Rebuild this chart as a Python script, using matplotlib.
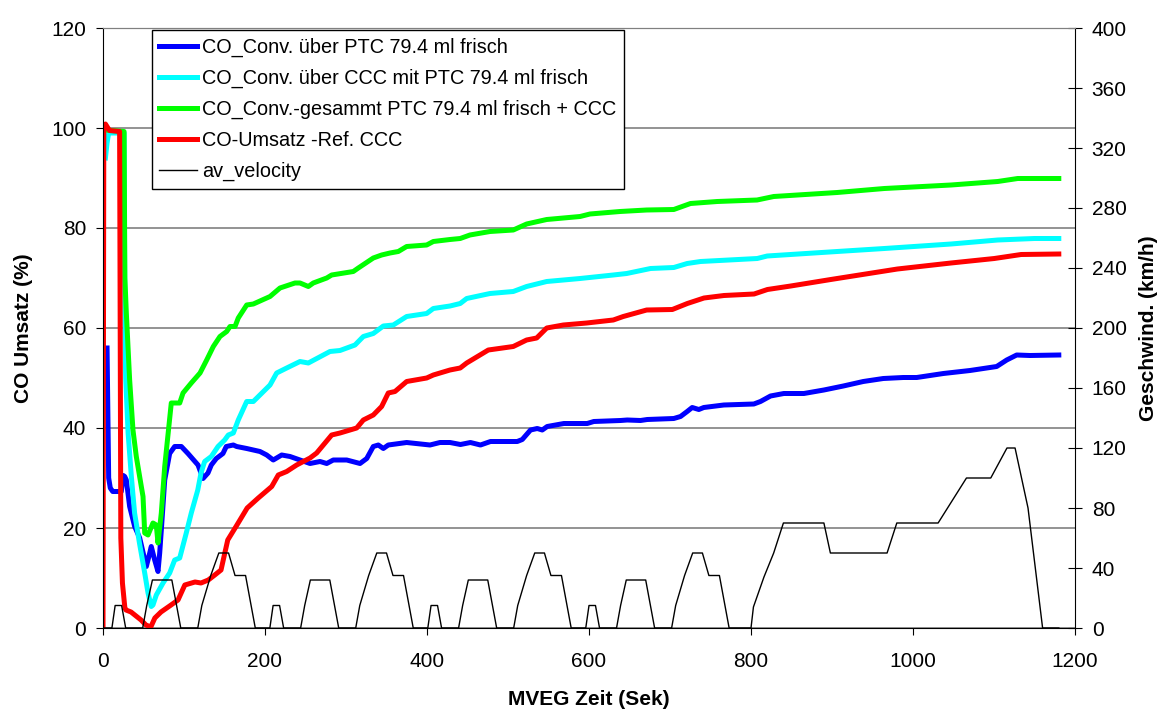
import matplotlib
matplotlib.use('Agg')
from matplotlib import pyplot as plt
from matplotlib.lines import Line2D

plt.rcParams['font.family'] = ['Liberation Sans', 'DejaVu Sans']

# CO conversion curves (time in s, value in %)
blue_t = [5, 7, 9, 12, 22.6, 25, 26.8, 28.8, 32.9, 39.1, 45.3, 53.5, 57.7, 59.6, 63.8, 67.9, 70, 72, 76.2, 82.3,
          88.5, 96.7, 104.9, 117.3, 123.5, 129.6, 133.7, 139.9, 148.1, 152.2, 160.9, 165, 177.4, 193.8, 202.1,
          210.2, 220.6, 230.9, 243.2, 255.6, 267.9, 276.2, 284.3, 300.9, 317.3, 325.6, 333.7, 339.9, 346.1,
          352.2, 374.9, 403.7, 416, 428.4, 441.3, 453.6, 466, 478.4, 511.4, 517.6, 527.8, 536.1, 542.3, 548.4,
          569, 597.8, 605.9, 638.9, 647.2, 663.6, 671.9, 704.7, 713, 721.2, 727.4, 735.6, 741.7, 766.4, 803.5,
          811.7, 824.1, 840.5, 865.3, 890, 914, 938.6, 963.3, 988, 1004.6, 1037.5, 1070.4, 1103.3, 1115.7,
          1128, 1144.5, 1180]
blue_v = [56, 30, 28, 27.3, 27.3, 30.5, 30.3, 29.6, 24.3, 20.3, 18, 12.3, 15, 16.3, 13.6, 11.3, 15, 19.6, 29.6, 34.9,
          36.3, 36.3, 34.9, 32.6, 29.9, 31, 32.6, 33.9, 34.9, 36.3, 36.6, 36.3, 35.9, 35.3, 34.6,
          33.6, 34.6, 34.3, 33.6, 32.9, 33.3, 32.9, 33.6, 33.6, 32.9, 33.9, 36.3, 36.6, 35.9,
          36.6, 37.1, 36.6, 37.1, 37.1, 36.7, 37.1, 36.6, 37.3, 37.3, 37.7, 39.6, 39.9, 39.6, 40.3,
          40.9, 40.9, 41.3, 41.5, 41.6, 41.5, 41.7, 41.9, 42.3, 43.3, 44.1, 43.7, 44.1, 44.6, 44.8,
          45.3, 46.4, 46.9, 46.9, 47.6, 48.4, 49.3, 49.9, 50.1, 50.1, 50.9, 51.5, 52.3, 53.6,
          54.6, 54.5, 54.6]

cyan_t = [3, 5, 7, 26, 27, 28, 31, 35, 39, 45, 51.5, 55.6, 59.6, 61.7, 65.8, 74.1, 82.3, 88.5, 94.7, 102.8, 109,
          117, 121, 125.5, 133.7, 142, 150.2, 154.7, 160.9, 167, 177.4, 185.6, 206.2, 214.4, 226.8, 243.2, 253.5,
          280.2, 292.6, 311.1, 321.4, 333.7, 346.1, 358.4, 374.9, 399.6, 407.8, 428.4, 441, 449, 477.8, 506.5,
          523, 547.8, 589, 630, 646.5, 676, 704.7, 721.2, 737.7, 807.7, 820, 906.4, 964.6, 1047, 1104.6,
          1149.9, 1180]
cyan_v = [94, 97, 99, 99, 60, 50, 39, 30.3, 23, 17, 11, 7, 4.3, 4.6, 6.6, 9, 11, 13.6, 14, 19, 23,
          27.6, 31, 33.3, 34.3, 36.3, 37.6, 38.6, 39, 41.6, 45.3, 45.3, 48.6, 51, 52, 53.3, 53,
          55.3, 55.5, 56.6, 58.3, 58.9, 60.4, 60.6, 62.3, 62.9, 63.9, 64.4, 64.9, 65.9, 66.9, 67.3,
          68.3, 69.3, 69.9, 70.6, 70.9, 71.9, 72.1, 72.9, 73.3, 73.9, 74.4, 75.3, 75.9, 76.8, 77.6,
          77.9, 77.9]

green_t = [2, 26, 27, 28.8, 32.9, 37, 41.1, 47.3, 49.4, 51.5, 55.6, 61.7, 65.8, 67.9, 72, 76.2, 84.3, 94.7, 98.8,
           109, 119.8, 128, 136.2, 144.4, 152.7, 156.8, 163, 167, 177.4, 185.6, 206.2, 218.5, 237, 243.2, 253.5,
           259.6, 276.2, 282.3, 309, 315.2, 333.7, 344, 354.3, 364.6, 374.9, 399.6, 407.8, 428.4, 441, 453,
           477.8, 506.5, 523, 547.8, 589, 601.2, 638.3, 671.2, 704.7, 725.3, 758.3, 807.5, 828.1, 906.4, 964.6,
           1047, 1104.6, 1129.3, 1180]
green_v = [99.6, 99.3, 70, 63, 49.6, 39.6, 34.3, 28.3, 26.3, 19, 18.6, 21, 20.6, 17, 23, 32.3, 45, 45, 47,
           49, 51, 53.6, 56.3, 58.3, 59.3, 60.3, 60.3, 62, 64.6, 64.8, 66.3, 68, 69, 69, 68.3,
           69, 70, 70.6, 71.3, 72, 74, 74.6, 75, 75.3, 76.3, 76.6, 77.3, 77.7, 77.9, 78.6,
           79.3, 79.6, 80.8, 81.7, 82.3, 82.8, 83.3, 83.6, 83.7, 84.9, 85.3, 85.6, 86.3, 87.1, 87.9,
           88.6, 89.3, 89.9, 89.9]

red_t = [0, 1, 3, 8, 20.5, 22, 24, 27, 28.4, 34.6, 47, 53, 59, 64, 71.6, 84, 92.6, 101, 113.6, 121, 130, 138,
         145.7, 154, 165, 178, 191.7, 208.3, 216.4, 226.8, 239.1, 255.6, 263.8, 282.3, 292.6, 313.2, 321.4,
         333.7, 344, 352.2, 360.5, 374.9, 399.6, 407.8, 428.4, 441, 449, 475.7, 506.5, 523, 535.4, 547.8,
         568.3, 597.2, 630, 642.3, 671.2, 702.9, 721.4, 742, 766.7, 803.8, 820.3, 849.1, 898.5, 980.8,
         1046.9, 1100.4, 1133.5, 1180]
red_v = [0, 100.5, 100.8, 99.5, 99.3, 18, 9, 4, 3.6, 3.2, 1.6, 0.6, 0.2, 2, 3.2, 4.6, 5.6, 8.6, 9.2, 9, 9.6, 10.6,
         11.6, 17.6, 20.5, 24, 26, 28.3, 30.6, 31.3, 32.6, 34, 35, 38.6, 39, 40, 41.6,
         42.6, 44.3, 47, 47.3, 49.3, 50, 50.6, 51.6, 52, 53, 55.6, 56.3, 57.6, 58, 60,
         60.6, 61, 61.6, 62.3, 63.6, 63.7, 64.9, 66, 66.5, 66.8, 67.7, 68.4, 69.7, 71.8,
         73, 73.9, 74.7, 74.8]

# driving cycle, km/h
vel_t = [0, 11, 15, 23, 28, 49, 54, 61, 85, 96, 117, 122, 133, 143, 155, 163, 176, 188,
         195, 206, 210, 218, 223, 244, 249, 256, 280, 291, 312, 317, 328, 338, 350, 358, 371, 383,
         390, 401, 405, 413, 418, 439, 444, 451, 475, 486, 507, 512, 523, 533, 545, 553, 566, 578,
         585, 596, 600, 608, 613, 634, 639, 646, 670, 681, 702, 707, 718, 728, 740, 748, 761, 773,
         800, 803, 816, 828, 840, 890, 898, 968, 980, 1031, 1066, 1096, 1116, 1126, 1142, 1160, 1180]
vel_v = [0, 0, 15, 15, 0, 0, 15, 32, 32, 0, 0, 15, 35, 50, 50, 35, 35, 0,
         0, 0, 15, 15, 0, 0, 15, 32, 32, 0, 0, 15, 35, 50, 50, 35, 35, 0,
         0, 0, 15, 15, 0, 0, 15, 32, 32, 0, 0, 15, 35, 50, 50, 35, 35, 0,
         0, 0, 15, 15, 0, 0, 15, 32, 32, 0, 0, 15, 35, 50, 50, 35, 35, 0,
         0, 14, 34, 50, 70, 70, 50, 50, 70, 70, 100, 100, 120, 120, 80, 0, 0]

labels = ['CO_Conv. über PTC 79.4 ml frisch',
          'CO_Conv. über CCC mit PTC 79.4 ml frisch',
          'CO_Conv.-gesammt PTC 79.4 ml frisch + CCC',
          'CO-Umsatz -Ref. CCC',
          'av_velocity']

fig = plt.figure(figsize=(11.66, 7.11), dpi=100)
ax = fig.add_axes([103 / 1166, 1 - 628 / 711, 972 / 1166, 600 / 711])
ax2 = ax.twinx()

lw = 3.6
ax.plot(blue_t, blue_v, color='#0000ff', lw=lw, solid_joinstyle='round')
ax.plot(cyan_t, cyan_v, color='#00ffff', lw=lw, solid_joinstyle='round')
ax.plot(green_t, green_v, color='#00ff00', lw=lw, solid_joinstyle='round')
ax.plot(red_t, red_v, color='#ff0000', lw=lw, solid_joinstyle='round')
ax2.plot(vel_t, vel_v, color='black', lw=1.0)

ax.set_xlim(0, 1200)
ax.set_ylim(0, 120)
ax2.set_ylim(0, 400)
ax.set_xticks(range(0, 1201, 200))
ax.set_yticks(range(0, 121, 20))
ax2.set_yticks(range(0, 401, 40))

ax.yaxis.grid(True, color='#808080', lw=1.2)
ax.set_axisbelow(True)

for a in (ax, ax2):
    a.spines['top'].set_color('#808080')
ax.spines['right'].set_visible(False)
ax2.spines['left'].set_visible(False)
ax2.spines['bottom'].set_visible(False)

fs = 15
ax.tick_params(axis='both', labelsize=fs, length=5, direction='out')
ax.tick_params(axis='y', pad=7)
ax.tick_params(axis='x', pad=12)
ax2.tick_params(axis='y', labelsize=fs, length=10, direction='inout', pad=7)

lfs = 15
ax.set_xlabel('MVEG Zeit (Sek)', fontsize=lfs, fontweight='bold')
ax.set_ylabel('CO Umsatz (%)', fontsize=lfs, fontweight='bold')
ax2.set_ylabel('Geschwind. (km/h)', fontsize=lfs, fontweight='bold')
ax.xaxis.set_label_coords(0.5, -0.104)
ax.yaxis.set_label_coords(-0.072, 0.5)
ax2.yaxis.set_label_coords(1.066, 0.5)

handles = [Line2D([], [], color=c, lw=lw) for c in ['#0000ff', '#00ffff', '#00ff00', '#ff0000']]
handles.append(Line2D([], [], color='black', lw=1.0))
leg = ax2.legend(handles, labels, loc='upper left', bbox_to_anchor=(0.0501, 0.9967), borderaxespad=0,
                 fontsize=14.3, fancybox=False, edgecolor='black', framealpha=1,
                 handlelength=1.9, handletextpad=0.25, labelspacing=0.6, borderpad=0.38)
leg.get_frame().set_linewidth(1.0)

fig.savefig('out.png', dpi=100)
